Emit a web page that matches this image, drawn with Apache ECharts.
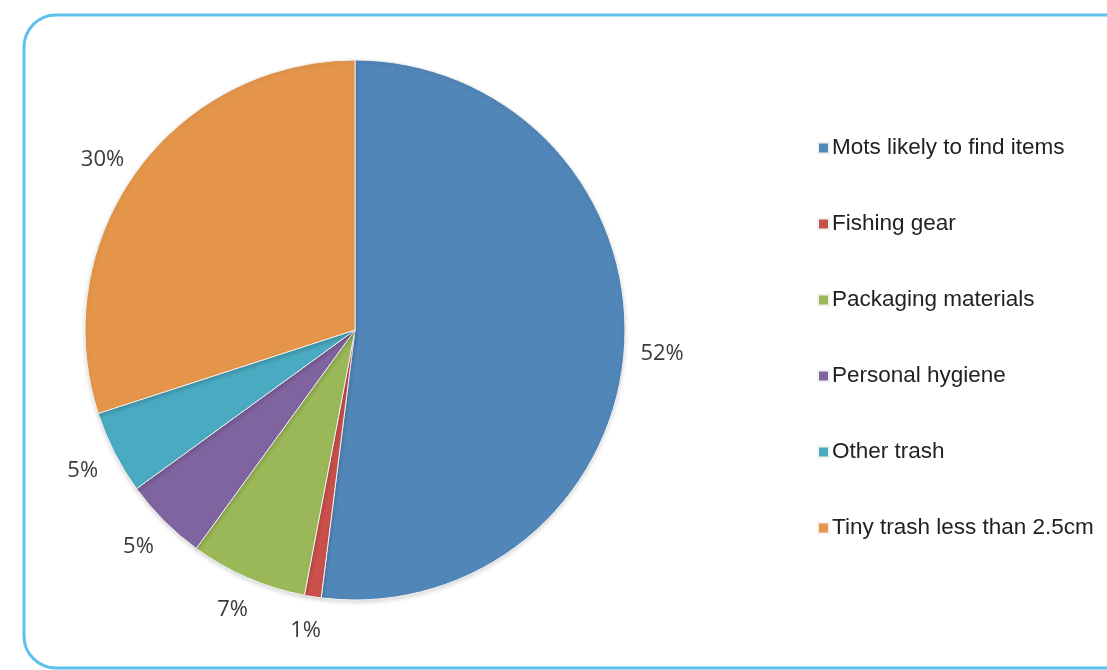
<!DOCTYPE html>
<html>
<head>
<meta charset="utf-8">
<script src="https://cdn.jsdelivr.net/npm/echarts@6/dist/echarts.min.js"></script>
<style>
html,body{margin:0;padding:0;background:#fff;}
#chart{width:1107px;height:670px;}
</style>
</head>
<body>
<div id="chart"></div>
<script>
var categories = ["Mots likely to find items", "Fishing gear", "Packaging materials", "Personal hygiene", "Other trash", "Tiny trash less than 2.5cm"];
var values = [52, 1, 7, 5, 5, 30];
var colors = ["#5186b8", "#c9504b", "#9bb859", "#8064a0", "#4aaac2", "#e4954a"];

var CX = 355, CY = 330, R = 270, GAP = 18;
var total = values.reduce(function (a, b) { return a + b; }, 0);

var chart = echarts.init(document.getElementById('chart'));
var data = categories.map(function (c, i) {
  return { name: c, value: values[i], itemStyle: { color: colors[i] } };
});
chart.setOption({
  animation: false,
  backgroundColor: '#fff',
  graphic: [{
    type: 'rect',
    shape: { x: 24, y: 15, width: 1140, height: 653, r: 32 },
    style: { fill: 'none', stroke: '#5ec0ef', lineWidth: 3 },
    z: -1
  }],
  legend: {
    orient: 'vertical',
    left: 812,
    top: 131,
    itemWidth: 11,
    itemHeight: 11,
    itemGap: 52,
    icon: 'rect',
    textStyle: { fontFamily: 'Liberation Sans', fontSize: 22.5, color: '#222', lineHeight: 24, padding: [0, 0, 0, -2] },
    data: categories
  },
  series: [{
    type: 'pie',
    center: [CX, CY],
    radius: R,
    startAngle: 90,
    clockwise: true,
    avoidLabelOverlap: false,
    itemStyle: { borderColor: '#f2f2f2', borderWidth: 1, shadowColor: 'rgba(0,0,0,0.15)', shadowBlur: 4, shadowOffsetY: 2 },
    label: {
      show: true,
      position: 'outside',
      formatter: function (p) { return p.value + '%'; },
      fontFamily: 'Open Sans',
      fontSize: 22,
      color: '#3a3a3a'
    },
    labelLine: { show: false, length: 16, length2: 0 },
    labelLayout: function (p) {
      var before = 0;
      for (var i = 0; i < p.dataIndex; i++) before += values[i];
      var mid = (before + values[p.dataIndex] / 2) / total * Math.PI * 2;
      var dx = Math.sin(mid), dy = -Math.cos(mid);
      var w = p.labelRect.width, h = p.labelRect.height;
      return {
        x: CX + dx * (R + GAP) + dx * w / 2 - 2,
        y: CY + dy * (R + GAP) + dy * h / 2 + 5,
        align: 'center',
        verticalAlign: 'middle'
      };
    },
    emphasis: { disabled: true },
    data: data
  }]
});
</script>
</body>
</html>
